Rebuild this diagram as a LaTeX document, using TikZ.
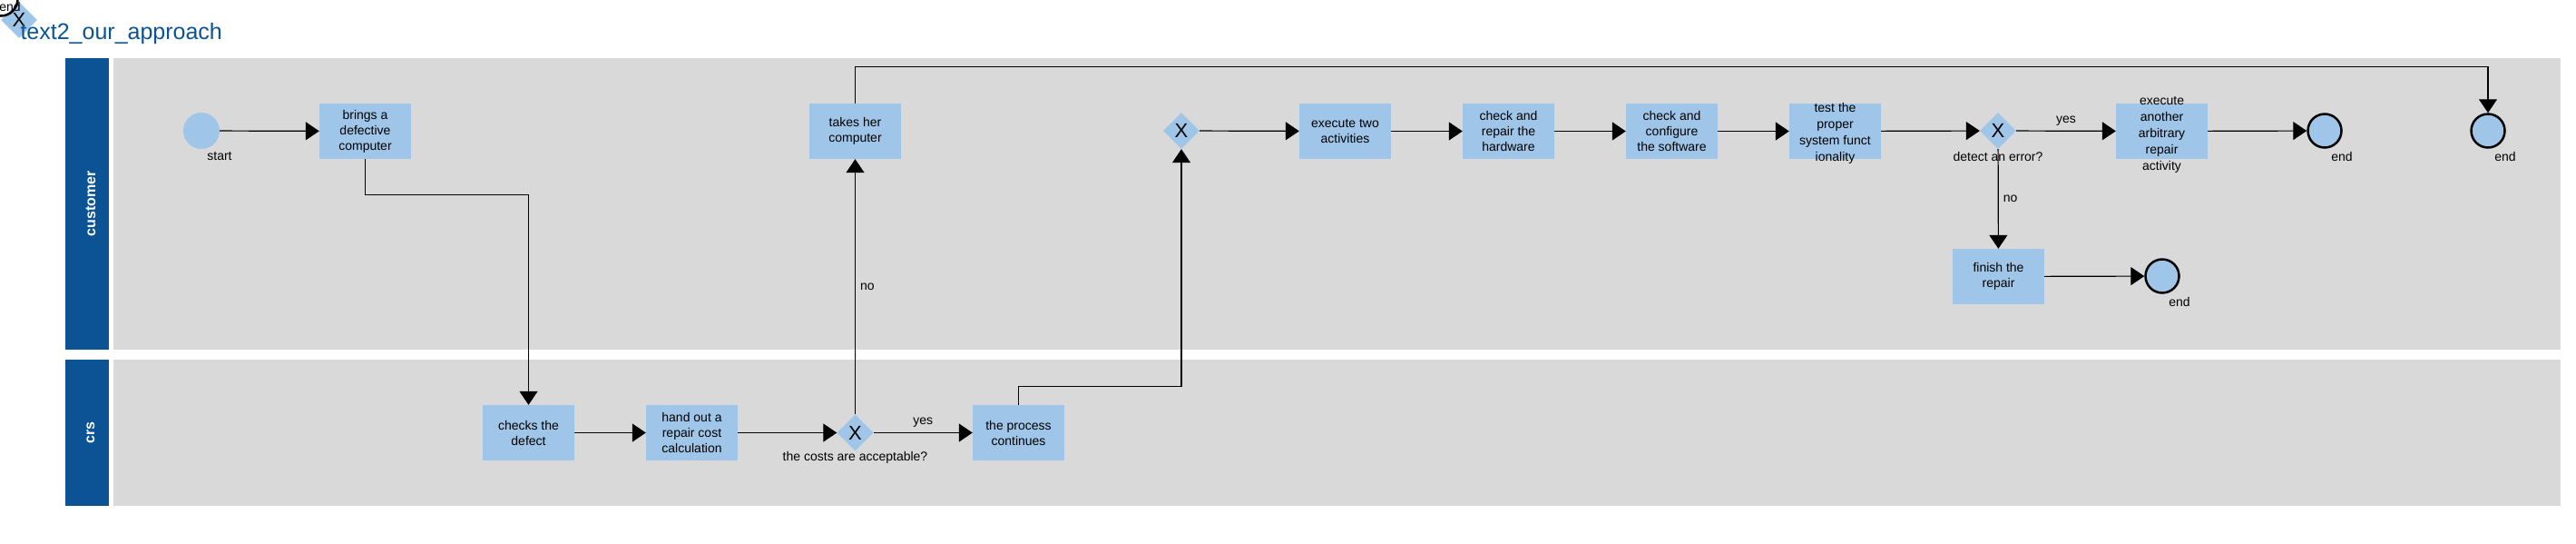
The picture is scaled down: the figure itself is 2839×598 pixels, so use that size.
\documentclass[tikz,border=0pt]{standalone}
\usepackage{fontspec}
\setmainfont{Liberation Sans}
\usetikzlibrary{arrows.meta,shapes.geometric,positioning}

\definecolor{lanebg}{HTML}{D9D9D9}
\definecolor{lanehead}{HTML}{0B5394}
\definecolor{taskfill}{HTML}{9FC5E8}

\tikzset{
  task/.style={rectangle, fill=taskfill, minimum width=101pt, minimum height=61pt,
    inner sep=0pt, align=center, font=\fontsize{14}{17}\selectfont},
  gate/.style={diamond, fill=taskfill, minimum width=40pt, minimum height=40pt,
    inner sep=0pt, font=\fontsize{22}{22}\selectfont},
  startev/.style={circle, fill=taskfill, minimum size=40pt, inner sep=0pt},
  endev/.style={circle, fill=taskfill, draw=black, line width=2.5pt, minimum size=37pt, inner sep=0pt},
  lbl/.style={font=\fontsize{14}{18}\selectfont, inner sep=0pt},
  lanetxt/.style={rotate=90, text=white, font=\bfseries\fontsize{16}{16}\selectfont},
  flow/.style={line width=1.2pt, -{Triangle[length=15pt,width=20pt]}},
}

\begin{document}
\begin{tikzpicture}[x=1pt,y=-1pt]
\useasboundingbox (0,0) rectangle (2839,598);

% lanes
\fill[lanehead] (72,64) rectangle (120,385);
\fill[lanebg] (125,64) rectangle (2822,385);
\fill[lanehead] (72,396) rectangle (120,557);
\fill[lanebg] (125,396) rectangle (2822,557);
\node[lanetxt] (lcust) at (100,224.5) {customer};
\node[lanetxt] (lcrs) at (100,476.5) {crs};

% stray shapes in the corner
\node[gate] (g0) at (21,22) {X};
\node[endev, fill=none] (e0) at (1,-1) {};
\node[lbl] (e0lbl) at (11,7) {end};
\node[anchor=base west, text=lanehead, font=\fontsize{25}{30}\selectfont] (title) at (19,43) {text2\_our\_approach};

% customer
\node[startev] (start) at (222,144) {};
\node[lbl] (startlbl) at (242,172) {start};
\node[task] (t1) at (402.5,144.5) {brings a\\defective\\computer};
\node[task] (t2) at (942.5,144.5) {takes her\\computer};
\node[gate] (g2) at (1302,144) {X};
\node[task] (t3) at (1482.5,144.5) {execute two\\activities};
\node[task] (t4) at (1662.5,144.5) {check and\\repair the\\hardware};
\node[task] (t5) at (1842.5,144.5) {check and\\configure\\the software};
\node[task] (t6) at (2022.5,144.5) {};
\node[lbl, align=center] (t6txt) at (2022.5,147) {test the\\proper\\system funct\\ionality};
\node[gate] (g3) at (2202,144) {X};
\node[lbl] (g3lbl) at (2202,172) {detect an error?};
\node[task] (t7) at (2382.5,144.5) {};
\node[lbl, align=center] (t7txt) at (2382.5,148) {execute\\another\\arbitrary\\repair\\activity};
\node[endev] (e1) at (2562,144) {};
\node[lbl] (e1lbl) at (2581,172) {end};
\node[endev] (e2) at (2742,144) {};
\node[lbl] (e2lbl) at (2761,172) {end};
\node[task] (t8) at (2202.5,304.5) {finish the\\repair};
\node[endev] (e3) at (2383,304) {};
\node[lbl] (e3lbl) at (2402,332) {end};

% crs
\node[task] (t9) at (582.5,476.5) {checks the\\defect};
\node[task] (t10) at (762.5,476.5) {hand out a\\repair cost\\calculation};
\node[gate] (g1) at (942.5,476.5) {X};
\node[lbl] (g1lbl) at (942.5,504) {the costs are acceptable?};
\node[task] (t11) at (1122.5,476.5) {the process\\continues};

% flows
\draw[flow] (start) -- (t1);
\draw[flow] (t1.south) -- ++(0,39) -| (t9.north);
\draw[flow] (t9) -- (t10);
\draw[flow] (t10) -- (g1);
\draw[flow] (g1) -- node[lbl, above=6pt] (yes1) {yes} (t11);
\draw[flow] (g1) -- node[lbl, right=5pt] (no1) {no} (t2);
\draw[flow] (t11.north) -- ++(0,-20) -| (g2.south);
\draw[flow] (t2.north) -- ++(0,-40) -| (e2.north);
\draw[flow] (g2) -- (t3);
\draw[flow] (t3) -- (t4);
\draw[flow] (t4) -- (t5);
\draw[flow] (t5) -- (t6);
\draw[flow] (t6) -- (g3);
\draw[flow] (g3) -- node[lbl, above=5pt] (yes2) {yes} (t7);
\draw[flow] (t7) -- (e1);
\draw[flow] (g3) -- node[lbl, right=5pt] (no2) {no} (t8);
\draw[flow] (t8) -- (e3);
\end{tikzpicture}
\end{document}
